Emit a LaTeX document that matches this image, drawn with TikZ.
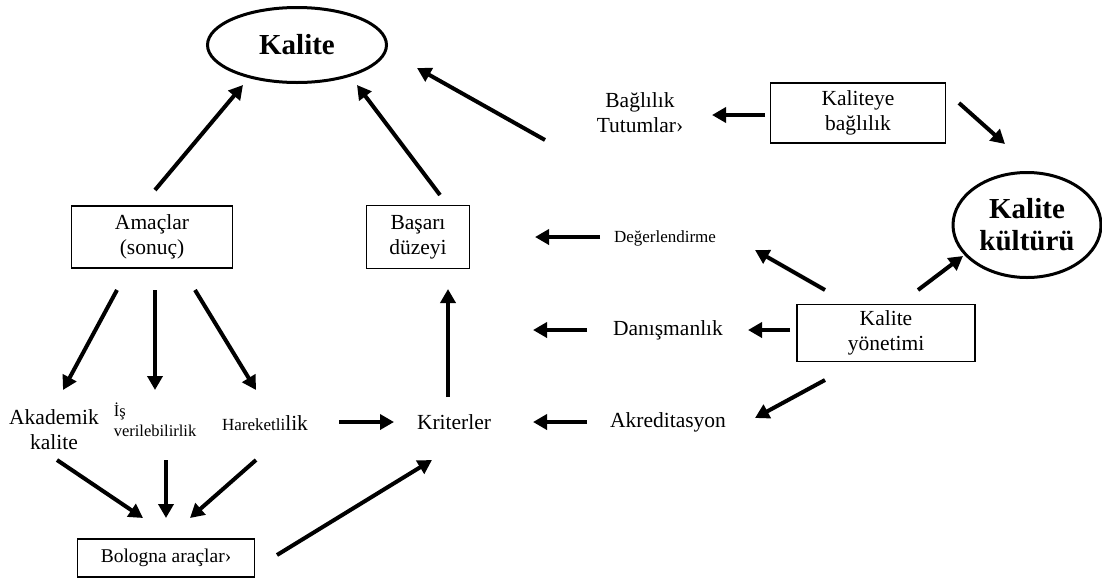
\documentclass[tikz,border=0pt]{standalone}
\usepackage{fontspec}
\setmainfont{Liberation Serif}
\usetikzlibrary{arrows.meta,shapes.geometric}
\begin{document}
\begin{tikzpicture}[x=1pt,y=-1pt,
  txt/.style={inner sep=0pt,align=center,font=\fontsize{21.5}{25}\selectfont},
  box/.style={draw,line width=1.4pt,align=center,inner sep=0pt,font=\fontsize{21.5}{25}\selectfont},
  oval/.style={draw,ellipse,line width=3pt,align=center,inner sep=0pt,font=\fontsize{29}{32}\selectfont\bfseries},
  arr/.style={line width=4pt,-{Triangle[length=14pt,width=15pt]}}
]
\useasboundingbox (0,0) rectangle (1102,579);
% nodes
\node[oval,minimum width=179pt,minimum height=75pt] (kalite) at (297,45) {Kalite};
\node[oval,minimum width=148pt,minimum height=105pt] (kultur) at (1027,225) {Kalite\\kültürü};
\node[box,minimum width=161pt,minimum height=62pt] (amac) at (152,237) {Amaçlar\\(sonuç)};
\node[box,minimum width=103pt,minimum height=63pt] (basari) at (418,237) {Başarı\\düzeyi};
\node[box,minimum width=175pt,minimum height=60pt] (kbag) at (858,113) {Kaliteye\\bağlılık};
\node[box,minimum width=178pt,minimum height=57pt] (kyon) at (886,333) {Kalite\\yönetimi};
\node[box,minimum width=177pt,minimum height=38pt,font=\fontsize{19.5}{22}\selectfont] (bologna) at (166,558) {Bologna araçlar›};
\node[txt] (tutum) at (640,113) {Bağlılık\\Tutumlar›};
\node[txt,font=\fontsize{17}{19}\selectfont] (deger) at (665,238) {Değerlendirme};
\node[txt] (danis) at (668,330) {Danışmanlık};
\node[txt] (akred) at (668,422) {Akreditasyon};
\node[txt] (krit) at (454,422) {Kriterler};
\node[txt] (akad) at (54,430) {Akademik\\kalite};
\node[txt,align=left,font=\fontsize{16.5}{20}\selectfont] (is) at (155,420) {İş\\verilebilirlik};
\node[txt] (hare) at (265,423) {{\fontsize{17}{20}\selectfont Hareketli}lik};
% free ends
\coordinate (danisend) at (533,330);
% connectors
\draw[arr] (155,190) -- (243,85);
\draw[arr] (440,195) -- (357,85);
\draw[arr] (545,140) -- (417,68);
\draw[arr] (765,115) -- (712,115);
\draw[arr] (959,103) -- (1005,144);
\draw[arr] (918,290) -- (963,256);
\draw[arr] (825,290) -- (755,250);
\draw[arr] (600,237) -- (535,237);
\draw[arr] (790,330) -- (748,330);
\draw[arr] (587,330) -- (danisend);
\draw[arr] (825,380) -- (755,418);
\draw[arr] (587,422) -- (533,422);
\draw[arr] (339,422) -- (394,422);
\draw[arr] (448,397) -- (448,289);
\draw[arr] (117,290) -- (63,390);
\draw[arr] (155,290) -- (155,390);
\draw[arr] (195,290) -- (256,390);
\draw[arr] (57,460) -- (143,518);
\draw[arr] (166,460) -- (166,518);
\draw[arr] (256,460) -- (190,518);
\draw[arr] (277,555) -- (432,460);
\end{tikzpicture}
\end{document}
